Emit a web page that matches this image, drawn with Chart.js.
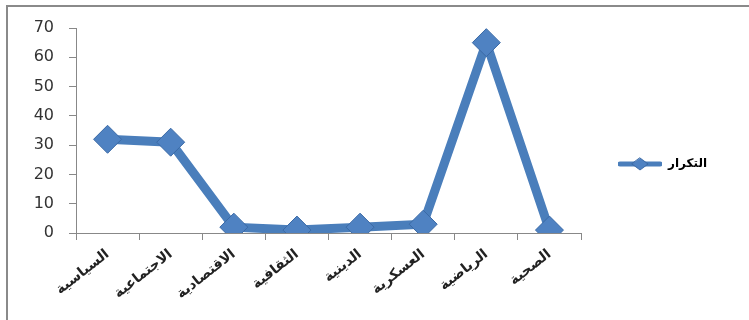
<!DOCTYPE html>
<html>
<head>
<meta charset="utf-8">
<script src="https://cdn.jsdelivr.net/npm/chart.js@4/dist/chart.umd.min.js"></script>
<style>
  html, body { margin: 0; padding: 0; background: #fff; }
  #wrap { position: relative; width: 749px; height: 320px; overflow: hidden; }
  #frame { position: absolute; left: 6px; top: 5px; width: 800px; height: 400px;
           border-left: 2px solid #8a8a8a; border-top: 2px solid #8a8a8a; pointer-events: none; }
</style>
</head>
<body>
<div id="wrap">
  <canvas id="c" width="749" height="320"></canvas>
  <div id="frame"></div>
</div>
<script>
const categories = ["السياسية", "الاجتماعية", "الاقتصادية", "الثقافية", "الدينية", "العسكرية", "الرياضية", "الصحية"];
const seriesName = "التكرار";
const values = [32, 31, 2, 1, 2, 3, 65, 1];
const yTicks = [0, 10, 20, 30, 40, 50, 60, 70];

const blue = '#4a7ebb';
const markerFill = '#4f82c2';
const markerBorder = '#3b6aa6';

// legend symbol: line with diamond
const sym = document.createElement('canvas');
sym.width = 44; sym.height = 16;
(function () {
  const g = sym.getContext('2d');
  g.strokeStyle = blue; g.lineWidth = 5; g.lineCap = 'round';
  g.beginPath(); g.moveTo(2, 8); g.lineTo(42, 8); g.stroke();
  g.fillStyle = markerFill; g.strokeStyle = markerBorder; g.lineWidth = 1;
  g.beginPath(); g.moveTo(22, 2); g.lineTo(30, 8); g.lineTo(22, 14); g.lineTo(14, 8); g.closePath();
  g.fill(); g.stroke();
})();

new Chart(document.getElementById('c'), {
  type: 'line',
  data: {
    labels: categories,
    datasets: [{
      label: seriesName,
      data: values,
      borderColor: blue,
      borderWidth: 9,
      borderJoinStyle: 'miter',
      tension: 0,
      pointStyle: 'rectRot',
      pointRadius: 14,
      pointHoverRadius: 14,
      pointBackgroundColor: markerFill,
      pointBorderColor: markerBorder,
      pointBorderWidth: 1,
      fill: false
    }]
  },
  options: {
    responsive: false,
    animation: false,
    devicePixelRatio: 1,
    layout: { padding: { left: 0, top: 28, right: 32, bottom: 20 } },
    plugins: {
      tooltip: { enabled: false },
      legend: {
        position: 'right',
        align: 'center',
        labels: {
          usePointStyle: true,
          pointStyleWidth: 44,
          padding: 37,
          color: '#222',
          font: { family: 'DejaVu Sans', size: 12, weight: 'bold' },
          generateLabels: (chart) => chart.data.datasets.map((ds, i) => ({
            text: ds.label, pointStyle: sym, datasetIndex: i,
            fillStyle: blue, strokeStyle: blue, lineWidth: 0, hidden: false
          }))
        }
      }
    },
    scales: {
      x: {
        offset: true,
        grid: { offset: true, drawOnChartArea: false, drawTicks: true, tickLength: 7, color: '#888' },
        border: { display: true, color: '#888', width: 1 },
        ticks: {
          autoSkip: false, maxRotation: 38, minRotation: 38, padding: 6,
          color: '#222', font: { family: 'DejaVu Sans', size: 14, weight: 'bold' }
        },
        afterFit: (s) => { s.height = 67; }
      },
      y: {
        min: 0, max: 70,
        afterBuildTicks: (s) => { s.ticks = yTicks.map(v => ({ value: v })); },
        grid: { drawOnChartArea: false, drawTicks: true, tickLength: 7, color: '#888' },
        border: { display: true, color: '#888', width: 1 },
        ticks: { padding: 15, color: '#333', font: { family: 'DejaVu Sans', size: 16 } },
        afterFit: (s) => { s.width = 76; }
      }
    }
  }
});
</script>
</body>
</html>
